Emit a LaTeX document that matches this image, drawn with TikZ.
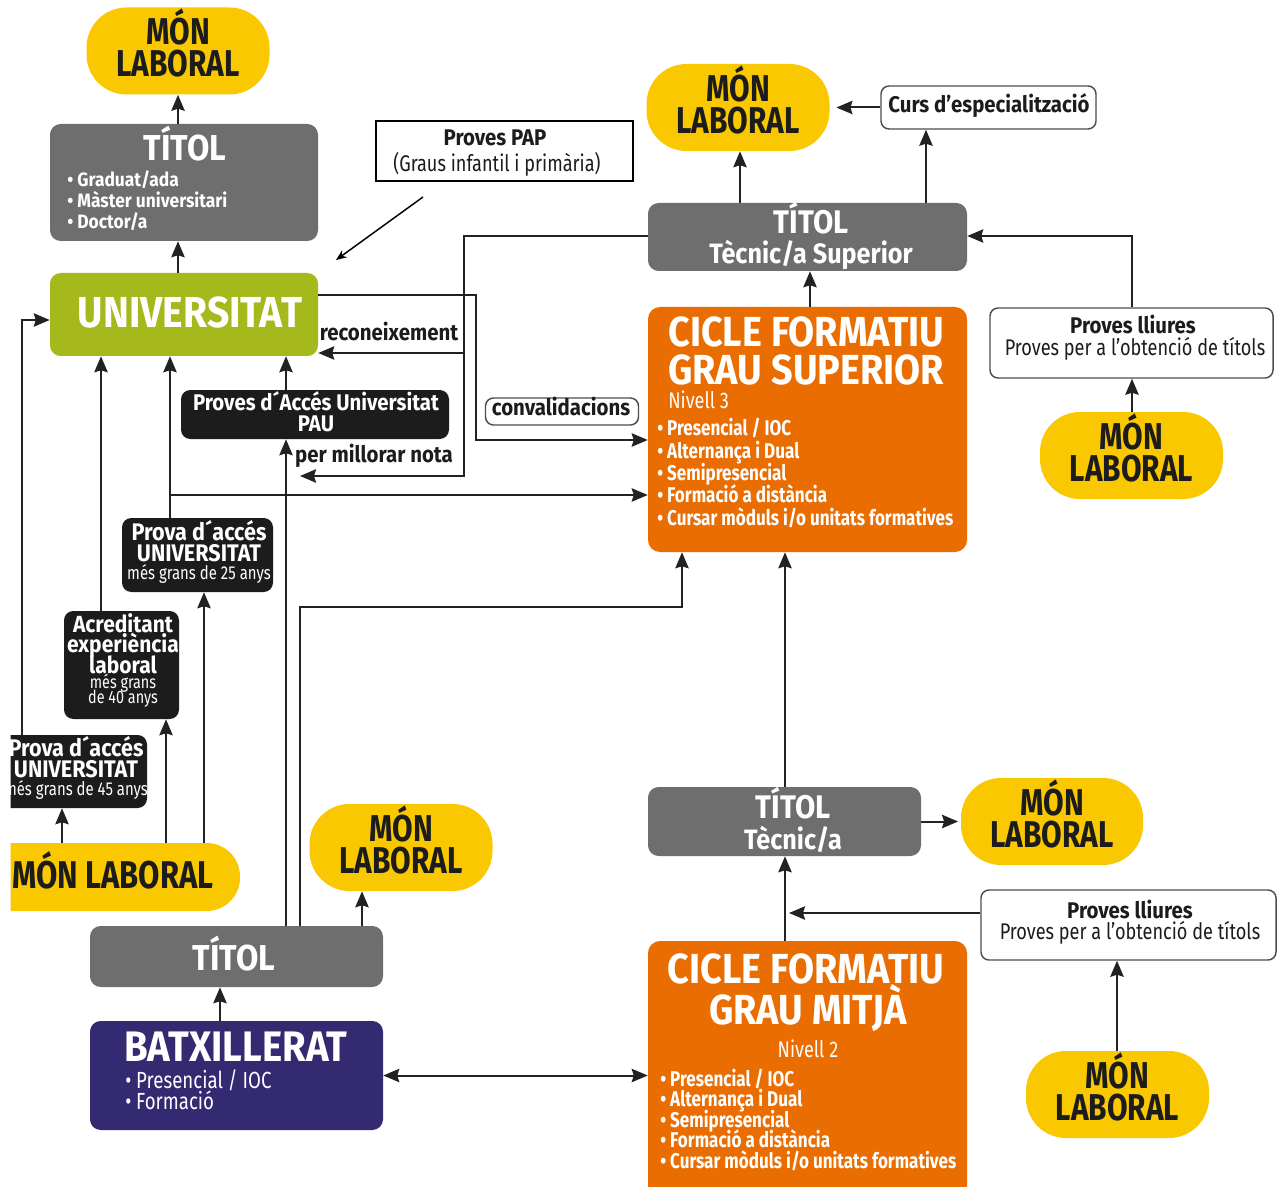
\documentclass[tikz,border=0pt]{standalone}
\usepackage{fontspec}
\setmainfont{Fira Sans}[FakeStretch=0.9]
\newfontfamily\fcn{Fira Sans}[FakeStretch=0.8]
\usetikzlibrary{arrows.meta,calc}
\definecolor{cyel}{HTML}{F9C800}
\definecolor{cgray}{HTML}{6E6E6E}
\definecolor{cgreen}{HTML}{A5B91C}
\definecolor{corange}{HTML}{E96D00}
\definecolor{cnavy}{HTML}{332A72}
\definecolor{cblack}{HTML}{1C1C1C}
\definecolor{cline}{HTML}{222222}
\newcommand\fsz[2]{\fontsize{#1}{#2}\selectfont}
\begin{document}
\begin{tikzpicture}[x=0.75pt,y=-0.75pt,
  sz/.style 2 args={minimum width=#1*0.75pt, minimum height=#2*0.75pt},
  pill/.style={fill=cyel, rounded corners=30pt, inner sep=0pt},
  pilltxt/.style={align=center, text=cblack, inner sep=0pt, yshift=6pt, font=\fcn\bfseries\fsz{28}{24}},
  mlab/.style={pill, label={[pilltxt]center:MÓN\\LABORAL}},
  gbox/.style={fill=cgray, rounded corners=8pt, inner sep=0pt},
  kbox/.style={fill=cblack, rounded corners=7pt, inner sep=0pt},
  obox/.style={fill=corange, rounded corners=9pt, inner sep=0pt},
  wbox/.style={draw=cline!80, line width=1.1pt, fill=white, rounded corners=6pt, inner sep=0pt},
  wt/.style={text=white, inner sep=0pt},
  bt/.style={text=cblack, inner sep=0pt},
  bb/.style={font=\bfseries\fsz{17}{19}, text height=12pt, text depth=3pt},
  bbl/.style={font=\bfseries\fsz{18}{19}, text height=12.5pt, text depth=2.5pt},
  rg/.style={font=\fcn\fsz{17}{19}, text height=12pt, text depth=3pt},
  sm/.style={font=\fcn\fsz{14}{15}, text height=9pt, text depth=2pt},
  cb/.style={font=\fcn\bfseries\fsz{16}{18}, text height=11.5pt, text depth=3pt},
  big/.style={text depth=0pt},
  tip/.style={-{Stealth[length=12pt,width=10pt,inset=1.5pt]}},
  arr/.style={draw=cline, line width=1.5pt, tip},
  arrb/.style={draw=cline, line width=1.5pt, {Stealth[length=12pt,width=10pt,inset=1.5pt]}-{Stealth[length=12pt,width=10pt,inset=1.5pt]}}
]
\useasboundingbox (0,0) rectangle (1288,1187);
\fill[white] (0,0) rectangle (1288,1187);
\begin{scope}
\clip (10.5,0) rectangle (1288,1187);

% guide coordinates
\coordinate (xa) at (22,0);
\coordinate (xb) at (62,0);
\coordinate (xc) at (101,0);
\coordinate (xd) at (166,0);
\coordinate (xe) at (170,0);
\coordinate (xf) at (204,0);
\coordinate (xg) at (286,0);
\coordinate (xh) at (300,0);
\coordinate (xi) at (362,0);
\coordinate (xj) at (220,0);
\coordinate (xm) at (682,0);
\coordinate (xn) at (740,0);
\coordinate (xo) at (926,0);
\coordinate (xp) at (810,0);
\coordinate (xq) at (785,0);
\coordinate (xr) at (1132,0);
\coordinate (xs) at (1117,0);
\coordinate (y236) at (0,236);
\coordinate (y295) at (0,295);
\coordinate (y320) at (0,320);
\coordinate (y353) at (0,353);
\coordinate (y440) at (0,440);
\coordinate (y495) at (0,495);
\coordinate (y913) at (0,913);

% ===== left column =====
\node[mlab, sz={183}{87}] (ml1) at (178,51) {};
\node[gbox, sz={268}{117}] (t1) at (184,182.5) {};
\node[wt, big, anchor=base, font=\bfseries\fsz{27}{30}] (t1a) at (185,161) {TÍTOL};
\node[wt, anchor=base west, font=\bfseries\fsz{14.5}{17}, text height=10pt, text depth=3pt] (t1b) at (67,187) {• Graduat/ada};
\node[wt, anchor=base west, font=\bfseries\fsz{14.5}{17}, text height=10pt, text depth=3pt] (t1c) at (67,208) {• Màster universitari};
\node[wt, anchor=base west, font=\bfseries\fsz{14.5}{17}, text height=10pt, text depth=3pt] (t1d) at (67,229) {• Doctor/a};

\node[gbox, fill=cgreen, sz={268}{83}] (univ) at (184,314.5) {};
\node[wt, big, anchor=base, font=\bfseries\fsz{32.5}{35}] (univt) at (190,328) {UNIVERSITAT};

\node[draw=black, line width=1pt, sz={257}{60}, inner sep=0pt] (pap) at (504.5,151) {};
\node[bt, bb, anchor=base] (papa) at (495,146) {Proves PAP};
\node[bt, rg, anchor=base] (papb) at (497,172) {(Graus infantil i primària)};
\coordinate (pap1) at (423,197);
\coordinate (pap2) at (336,260);
\draw[draw=black, line width=1.1pt, -{Stealth[length=8pt,width=6.5pt]}] (pap1) -- (pap2);

\node[kbox, sz={268}{49}] (pau) at (315,414.5) {};
\node[wt, bb, anchor=base] (paua) at (316,411) {Proves d´Accés Universitat};
\node[wt, bb, anchor=base] (paub) at (316,431) {PAU};

\node[bt, bb, anchor=base] (recon) at (389,341) {reconeixement};
\node[bt, bb, anchor=base] (pmn) at (374,462) {per millorar nota};
\node[wbox, sz={153}{27}] (conv) at (562,411.5) {};
\node[bt, bb, anchor=base] (convt) at (561,416) {convalidacions};

\node[kbox, sz={151}{74}] (p25) at (197.5,555) {};
\node[wt, bbl, anchor=base] at (199,540) {Prova d´accés};
\node[wt, bbl, anchor=base] at (199,561) {UNIVERSITAT};
\node[wt, sm, anchor=base] at (199,579) {més grans de 25 anys};

\node[kbox, sz={115}{108}] (acr) at (121.5,665) {};
\node[wt, bbl, anchor=base, font=\bfseries\fsz{17.5}{19}, text depth=2pt] at (123,632) {Acreditant};
\node[wt, bbl, anchor=base, font=\bfseries\fsz{17.5}{19}, text height=11pt, text depth=2pt] at (123,652) {experiència};
\node[wt, bbl, anchor=base, font=\bfseries\fsz{17.5}{19}, text height=11pt, text depth=0pt] at (123,673) {laboral};
\node[wt, sm, anchor=base, font=\fcn\fsz{13.5}{15}, text height=8pt, text depth=1pt] at (123,688) {més grans};
\node[wt, sm, anchor=base, font=\fcn\fsz{13.5}{15}, text height=8pt] at (123,703) {de 40 anys};

\node[kbox, sz={167}{73}] (p45) at (63.5,771.5) {};
\node[wt, bbl, anchor=base] at (76,756) {Prova d´accés};
\node[wt, bbl, anchor=base] at (76,777) {UNIVERSITAT};
\node[wt, sm, anchor=base] at (76,795) {més grans de 45 anys};

\node[pill, rounded corners=25pt, sz={290}{68}] (ml2) at (95,877) {};
\node[bt, big, anchor=base, font=\fcn\bfseries\fsz{29}{30}] at (113,888) {MÓN LABORAL};

\node[mlab, sz={183}{87}] (ml3) at (401,847.5) {};
\node[gbox, sz={293}{61}] (t3) at (236.5,956.5) {};
\node[wt, big, anchor=base, font=\bfseries\fsz{27}{30}] at (234,970) {TÍTOL};

\node[gbox, fill=cnavy, sz={293}{109}] (bat) at (236.5,1075.5) {};
\node[wt, big, anchor=base, font=\bfseries\fsz{32}{35}] at (236,1061) {BATXILLERAT};
\node[wt, rg, anchor=base west, font=\fcn\fsz{17.5}{19}] at (125,1088) {• Presencial / IOC};
\node[wt, rg, anchor=base west, font=\fcn\fsz{17.5}{19}] at (125,1109) {• Formació};

% ===== right column =====
\node[mlab, sz={183}{87}] (ml4) at (738,107.5) {};
\node[wbox, sz={215}{43}] (curs) at (988.5,107.5) {};
\node[bt, bb, anchor=base] at (989,113) {Curs d’especialització};

\node[gbox, sz={319}{68}] (t2) at (807.5,237) {};
\node[wt, big, anchor=base, font=\bfseries\fsz{24.5}{28}] at (811,234) {TÍTOL};
\node[wt, anchor=base, font=\bfseries\fsz{21}{24}] at (811,264) {Tècnic/a Superior};

\node[obox, sz={319}{245}] (cfgs) at (807.5,429.5) {};
\node[wt, big, anchor=base west, font=\bfseries\fsz{31.5}{33}] at (668,347) {CICLE FORMATIU};
\node[wt, big, anchor=base west, font=\bfseries\fsz{31.5}{33}] at (668,384) {GRAU SUPERIOR};
\node[wt, anchor=base west, rg, text height=10pt] at (668,408) {Nivell 3};
\node[wt, anchor=base west, cb] at (657,435) {• Presencial / IOC};
\node[wt, anchor=base west, cb] at (657,458) {• Alternança i Dual};
\node[wt, anchor=base west, cb] at (657,480) {• Semipresencial};
\node[wt, anchor=base west, cb] at (657,502) {• Formació a distància};
\node[wt, anchor=base west, cb] at (657,525) {• Cursar mòduls i/o unitats formatives};

\node[wbox, sz={283}{70}] (pl1) at (1131.5,343) {};
\node[bt, bb, anchor=base] at (1133,334) {Proves lliures};
\node[bt, rg, anchor=base] at (1135,356) {Proves per a l’obtenció de títols};
\node[mlab, sz={183}{87}] (ml5) at (1131.5,455.5) {};

\node[gbox, sz={273}{69}] (t4) at (784.5,821.5) {};
\node[wt, big, anchor=base, font=\bfseries\fsz{24.5}{28}] at (793,818) {TÍTOL};
\node[wt, anchor=base, font=\bfseries\fsz{21}{24}] at (793,849) {Tècnic/a};
\node[mlab, sz={182}{87}] (ml6) at (1052,821.5) {};

\node[wbox, sz={295}{70}] (pl2) at (1128.5,925) {};
\node[bt, bb, anchor=base] at (1130,918) {Proves lliures};
\node[bt, rg, anchor=base] at (1130,939) {Proves per a l’obtenció de títols};
\node[mlab, sz={183}{87}] (ml7) at (1117.5,1094.5) {};
\coordinate (pl2tip) at (789,913);

\node[obox, sz={319}{259}] (cfgm) at (807.5,1070.5) {};
\node[wt, big, anchor=base, font=\bfseries\fsz{31.5}{33}] at (806,983) {CICLE FORMATIU};
\node[wt, big, anchor=base, font=\bfseries\fsz{31.5}{33}] at (808,1024) {GRAU MITJÀ};
\node[wt, anchor=base, rg, text height=10pt] at (808,1057) {Nivell 2};
\node[wt, anchor=base west, cb] at (660,1086) {• Presencial / IOC};
\node[wt, anchor=base west, cb] at (660,1106) {• Alternança i Dual};
\node[wt, anchor=base west, cb] at (660,1127) {• Semipresencial};
\node[wt, anchor=base west, cb] at (660,1147) {• Formació a distància};
\node[wt, anchor=base west, cb] at (660,1168) {• Cursar mòduls i/o unitats formatives};

% ===== connectors =====
\draw[arr] (t1.north -| ml1.south) -- (ml1.south);
\draw[arr] (univ.north -| ml1.south) -- (t1.south -| ml1.south);
\draw[arr] (pau.north -| xg) -- (univ.south -| xg);
\draw[arr] (t3.north -| xg) -- (pau.south -| xg);
\draw[arr] (t3.north -| xh) -- (300,607) -- (682,607) -- (cfgs.south -| xm);
\draw[arr] (t3.north -| xi) -- (ml3.south -| xi);
\draw[arr] (bat.north -| xj) -- (t3.south -| xj);
\draw[arrb] (bat.east) -- (cfgm.west |- bat.east);
\draw[arr] (ml2.north -| xb) -- (p45.south -| xb);
\draw[arr] (ml2.north -| xd) -- (acr.south -| xd);
\draw[arr] (ml2.north -| xf) -- (p25.south -| xf);
\draw[arr] (p45.north -| xa) -- (22,320) -- (univ.west |- y320);
\draw[arr] (acr.north -| xc) -- (univ.south -| xc);
\draw[arr] (p25.north -| xe) -- (univ.south -| xe);
\draw[arr] (xe |- y495) -- (cfgs.west |- y495);
\draw[arr] (univ.east |- y295) -- (476,295) -- (476,440) -- (cfgs.west |- y440);
\draw[arr] (t2.west |- y236) -- (464,236) -- (464,476) -- (300,476);
\draw[arr] (464,353) -- (univ.east |- y353);
\draw[arr] (t2.north -| xn) -- (ml4.south -| xn);
\draw[arr] (t2.north -| xo) -- (curs.south -| xo);
\draw[arr, shorten >=5pt] (curs.west) -- (ml4.east |- curs.west);
\draw[arr] (cfgs.north -| xp) -- (t2.south -| xp);
\draw[arr] (pl1.north -| xr) -- (1132,236) -- (t2.east |- y236);
\draw[arr] (ml5.north -| xr) -- (pl1.south -| xr);
\draw[arr] (t4.north -| xq) -- (cfgs.south -| xq);
\draw[arr, shorten >=2pt] (t4.east) -- (ml6.west |- t4.east);
\draw[arr] (cfgm.north -| xq) -- (t4.south -| xq);
\draw[arr] (pl2.west |- y913) -- (pl2tip);
\draw[arr] (ml7.north -| xs) -- (pl2.south -| xs);
\end{scope}
\end{tikzpicture}
\end{document}
